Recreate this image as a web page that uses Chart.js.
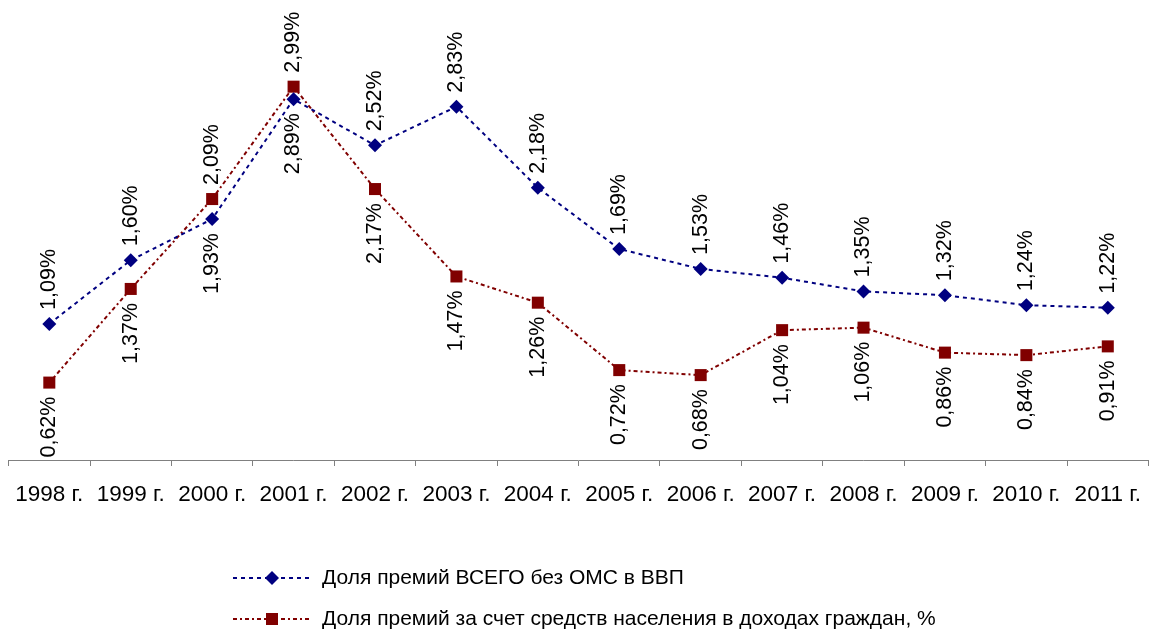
<!DOCTYPE html>
<html>
<head>
<meta charset="utf-8">
<script src="https://cdn.jsdelivr.net/npm/chart.js@4/dist/chart.umd.min.js"></script>
<style>
  html, body { margin: 0; padding: 0; background: #fff; }
  #wrap { position: relative; width: 1157px; height: 632px; }
</style>
</head>
<body>
<div id="wrap"><canvas id="myChart" width="1157" height="632"></canvas></div>
<script>
const years = ["1998 г.", "1999 г.", "2000 г.", "2001 г.", "2002 г.", "2003 г.", "2004 г.",
  "2005 г.", "2006 г.", "2007 г.", "2008 г.", "2009 г.", "2010 г.", "2011 г."];
const totalShare = [1.09, 1.60, 1.93, 2.89, 2.52, 2.83, 2.18, 1.69, 1.53, 1.46, 1.35, 1.32, 1.24, 1.22];
const populationShare = [0.62, 1.37, 2.09, 2.99, 2.17, 1.47, 1.26, 0.72, 0.68, 1.04, 1.06, 0.86, 0.84, 0.91];
const seriesNames = ["Доля премий ВСЕГО без ОМС в ВВП",
  "Доля премий за счет средств населения в доходах граждан, %"];

const FONT = "'Liberation Sans', Arial, sans-serif";

// value labels: higher point of the pair gets its label above, lower one below
const valueLabels = {
  id: 'valueLabels',
  afterDatasetsDraw(chart) {
    const ctx = chart.ctx;
    ctx.save();
    ctx.font = "21.5px " + FONT;
    ctx.fillStyle = "#000";
    ctx.textBaseline = "middle";
    chart.data.datasets.forEach((ds, di) => {
      const meta = chart.getDatasetMeta(di);
      const other = chart.data.datasets[1 - di].data;
      meta.data.forEach((pt, i) => {
        const v = ds.data[i];
        const above = v >= other[i];
        const txt = v.toFixed(2).replace('.', ',') + '%';
        ctx.save();
        ctx.translate(pt.x, pt.y);
        ctx.rotate(-Math.PI / 2);
        if (above) {
          ctx.textAlign = "left";
          ctx.fillText(txt, 14, 0);
        } else {
          ctx.textAlign = "right";
          ctx.fillText(txt, -14, 0);
        }
        ctx.restore();
      });
    });
    ctx.restore();
  }
};

// legend drawn like the original: dashed line with marker in the middle
const bottomLegend = {
  id: 'bottomLegend',
  afterDraw(chart) {
    const ctx = chart.ctx;
    ctx.save();
    const rows = [578, 619];
    chart.data.datasets.forEach((ds, di) => {
      const y = rows[di];
      ctx.strokeStyle = ds.borderColor;
      ctx.lineWidth = 2;
      ctx.setLineDash(ds.borderDash);
      ctx.beginPath();
      ctx.moveTo(233, y);
      ctx.lineTo(311, y);
      ctx.stroke();
      ctx.setLineDash([]);
      ctx.fillStyle = ds.pointBackgroundColor;
      if (di === 0) {
        ctx.beginPath();
        ctx.moveTo(272, y - 7);
        ctx.lineTo(279, y);
        ctx.lineTo(272, y + 7);
        ctx.lineTo(265, y);
        ctx.closePath();
        ctx.fill();
      } else {
        ctx.fillRect(266, y - 6, 12, 12);
      }
      ctx.fillStyle = "#000";
      ctx.font = "21px " + FONT;
      ctx.textBaseline = "middle";
      ctx.textAlign = "left";
      ctx.fillText(ds.label, 322, y);
    });
    ctx.restore();
  }
};

new Chart(document.getElementById('myChart').getContext('2d'), {
  type: 'line',
  data: {
    labels: years,
    datasets: [{
      label: seriesNames[0],
      data: totalShare,
      borderColor: "#000080",
      backgroundColor: "#000080",
      pointBackgroundColor: "#000080",
      pointBorderColor: "#000080",
      borderWidth: 2,
      borderDash: [4, 4],
      pointStyle: 'rectRot',
      pointRadius: 7,
      pointBorderWidth: 0,
      tension: 0
    }, {
      label: seriesNames[1],
      data: populationShare,
      borderColor: "#800000",
      backgroundColor: "#800000",
      pointBackgroundColor: "#800000",
      pointBorderColor: "#800000",
      borderWidth: 2,
      borderDash: [4, 3, 2, 3],
      pointStyle: 'rect',
      pointRadius: 8.5,
      pointBorderWidth: 0,
      tension: 0
    }]
  },
  options: {
    responsive: false,
    animation: false,
    layout: { padding: { left: 8, right: 7, top: 23, bottom: 109 } },
    plugins: {
      legend: { display: false },
      tooltip: { enabled: false }
    },
    scales: {
      x: {
        offset: true,
        grid: {
          offset: true,
          drawOnChartArea: false,
          drawTicks: true,
          tickLength: 6,
          color: "#808080",
          lineWidth: 1
        },
        border: { display: true, color: "#808080", width: 1 },
        ticks: {
          color: "#000",
          font: { family: FONT, size: 22.5 },
          padding: 15,
          maxRotation: 0,
          autoSkip: false
        }
      },
      y: {
        display: false,
        min: 0,
        max: 3.5
      }
    }
  },
  plugins: [valueLabels, bottomLegend]
});
</script>
</body>
</html>
